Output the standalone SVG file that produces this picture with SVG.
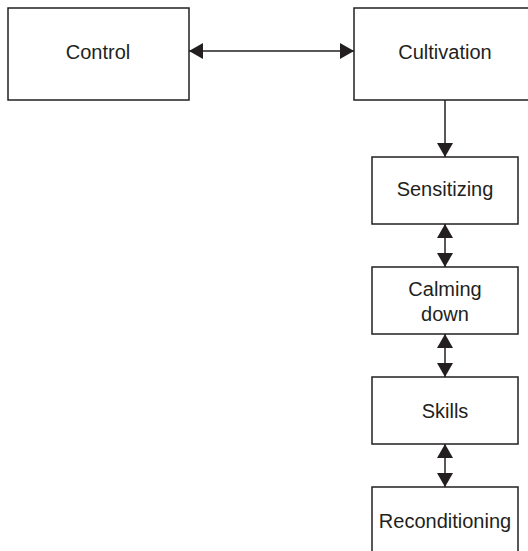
<svg xmlns="http://www.w3.org/2000/svg" width="528" height="551" viewBox="0 0 528 551">
  <style>
    .box { fill: #ffffff; stroke: #231f20; stroke-width: 1.5; }
    .lbl { font-family: "Liberation Sans", Arial, sans-serif; font-size: 20px; fill: #231f20; text-anchor: middle; }
    .conn { stroke: #231f20; stroke-width: 1.5; fill: none; }
  </style>
  <defs>
    <marker id="ah" viewBox="0 0 14 16" refX="14" refY="8" markerWidth="14" markerHeight="16" markerUnits="userSpaceOnUse" orient="auto-start-reverse">
      <path d="M0,0 L14,8 L0,16 Z" fill="#231f20"/>
    </marker>
  </defs>
  <rect width="528" height="551" fill="#ffffff"/>
  <g id="control">
    <rect class="box" x="8" y="8" width="181" height="92"/>
    <text class="lbl" x="98" y="58.5">Control</text>
  </g>
  <g id="cultivation">
    <rect class="box" x="354" y="8" width="182" height="92"/>
    <text class="lbl" x="445" y="58.5">Cultivation</text>
  </g>
  <g id="sensitizing">
    <rect class="box" x="372" y="157" width="146" height="67"/>
    <text class="lbl" x="445" y="196">Sensitizing</text>
  </g>
  <g id="calming-down">
    <rect class="box" x="372" y="267" width="146" height="67"/>
    <text class="lbl" x="445" y="296">Calming</text>
    <text class="lbl" x="445" y="321">down</text>
  </g>
  <g id="skills">
    <rect class="box" x="372" y="377" width="146" height="67"/>
    <text class="lbl" x="445" y="418">Skills</text>
  </g>
  <g id="reconditioning">
    <rect class="box" x="372" y="487" width="146" height="80"/>
    <text class="lbl" x="445" y="528">Reconditioning</text>
  </g>
  <g id="connectors">
    <line class="conn" x1="189" y1="51" x2="354" y2="51" marker-start="url(#ah)" marker-end="url(#ah)"/>
    <line class="conn" x1="445" y1="100" x2="445" y2="157" marker-end="url(#ah)"/>
    <line class="conn" x1="445" y1="224" x2="445" y2="267" marker-start="url(#ah)" marker-end="url(#ah)"/>
    <line class="conn" x1="445" y1="334" x2="445" y2="377" marker-start="url(#ah)" marker-end="url(#ah)"/>
    <line class="conn" x1="445" y1="444" x2="445" y2="487" marker-start="url(#ah)" marker-end="url(#ah)"/>
  </g>
</svg>
